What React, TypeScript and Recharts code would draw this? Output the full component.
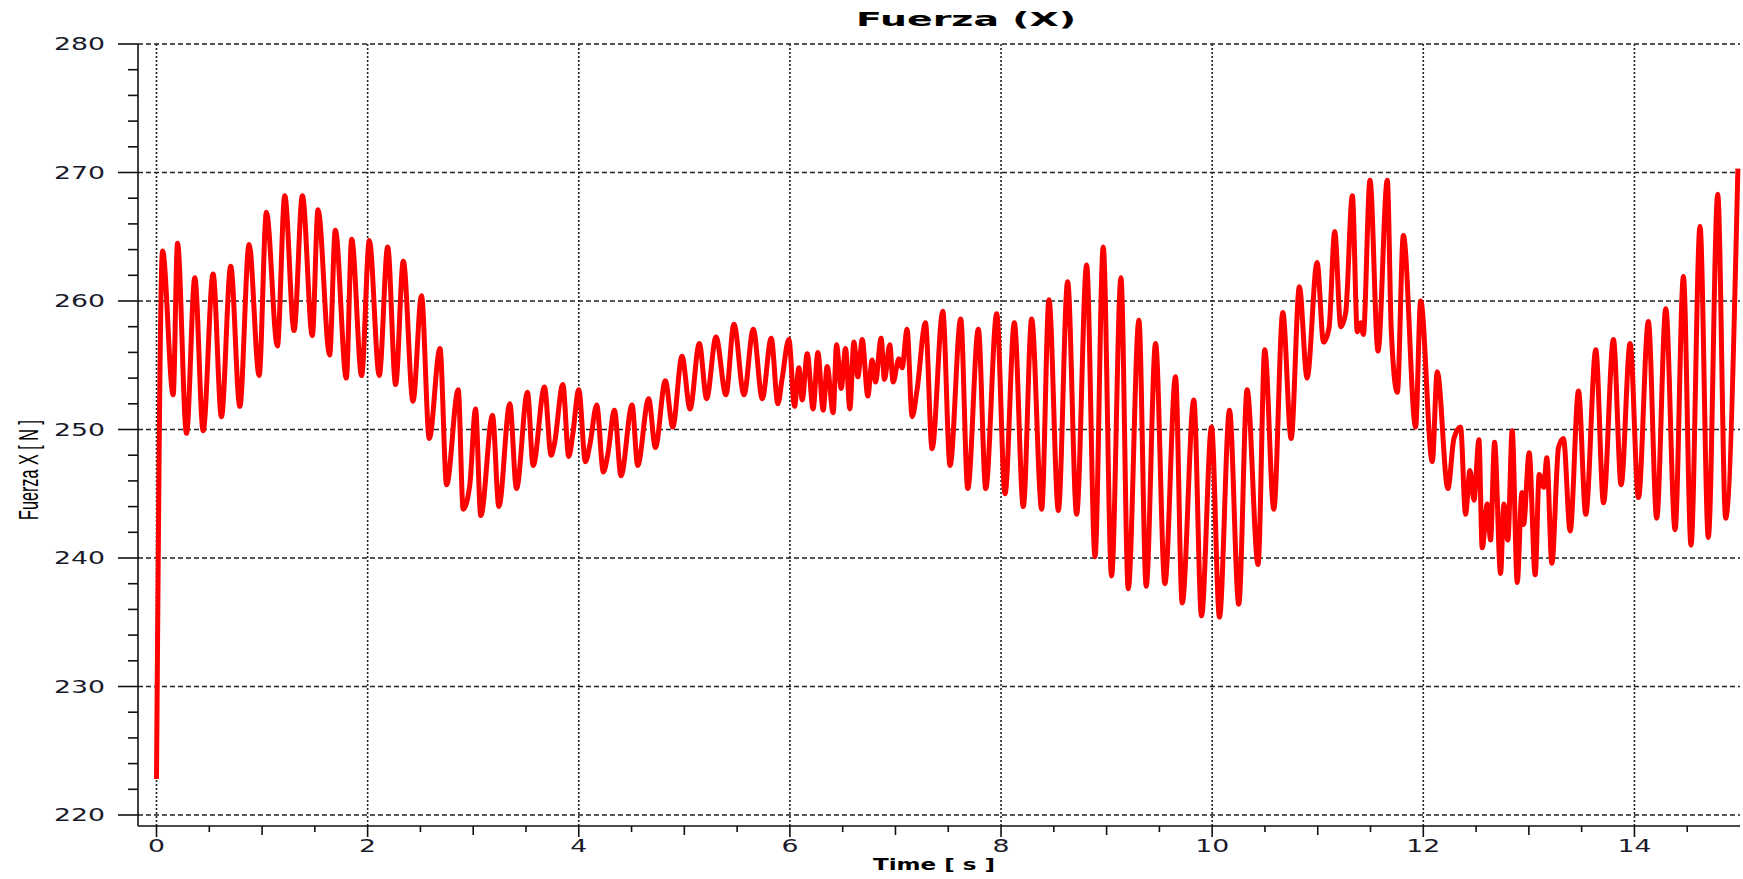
import React from 'react';
import { LineChart, Line, XAxis, YAxis, CartesianGrid } from 'recharts';

const chartTitle = 'Fuerza  (X)';
const xTitle = 'Time [ s ]';
const yTitle = 'Fuerza X [ N ]';

const xLabels = [0, 2, 4, 6, 8, 10, 12, 14];
const yLabels = [220, 230, 240, 250, 260, 270, 280];

// peaks and valleys of the signal
const timeS = [
  0.0, 0.057, 0.158, 0.199, 0.284, 0.363, 0.442, 0.536, 0.615, 0.703, 0.789, 0.877, 0.972,
  1.041, 1.145, 1.215, 1.303, 1.382, 1.476, 1.53, 1.64, 1.694, 1.798, 1.849, 1.943,
  2.016, 2.11, 2.19, 2.265, 2.338, 2.43, 2.51, 2.584, 2.685, 2.748, 2.858, 2.905, 2.968,
  3.022, 3.072, 3.183, 3.243, 3.347, 3.41, 3.514, 3.568, 3.675, 3.738, 3.77, 3.849, 3.905, 3.943,
  4.0, 4.063, 4.107, 4.17, 4.233, 4.274, 4.338, 4.4, 4.505, 4.558, 4.662, 4.726, 4.82, 4.89, 4.978,
  5.054, 5.142, 5.211, 5.3, 5.394, 5.47, 5.565, 5.653, 5.738, 5.823, 5.886, 5.927, 5.99,
  6.044, 6.085, 6.117, 6.164, 6.22, 6.265, 6.315, 6.353, 6.41, 6.442, 6.486, 6.527, 6.568, 6.606,
  6.644, 6.685, 6.738, 6.779, 6.811, 6.864, 6.896, 6.946, 6.978,
  7.032, 7.063, 7.11, 7.158, 7.205, 7.284, 7.347, 7.448, 7.517, 7.618, 7.685, 7.785, 7.855, 7.959,
  8.038, 8.126, 8.211, 8.29, 8.385, 8.454, 8.543, 8.631, 8.716, 8.811, 8.89, 8.968,
  9.047, 9.136, 9.205, 9.306, 9.375, 9.464, 9.552, 9.653, 9.716, 9.826, 9.899, 9.994,
  10.069, 10.164, 10.252, 10.331, 10.435, 10.498, 10.584, 10.669, 10.748, 10.826, 10.899, 10.994,
  11.055, 11.107, 11.161, 11.218, 11.265, 11.328, 11.375, 11.407, 11.432, 11.495, 11.571, 11.659,
  11.697, 11.754, 11.811, 11.927, 11.975,
  12.085, 12.132, 12.233, 12.29, 12.353, 12.4, 12.442, 12.48, 12.527, 12.558, 12.606, 12.637,
  12.675, 12.732, 12.763, 12.801, 12.842, 12.89, 12.934, 12.95,
  13.003, 13.06, 13.098, 13.14, 13.17, 13.218, 13.281, 13.328, 13.391, 13.47, 13.539, 13.634,
  13.707, 13.801, 13.874, 13.959,
  14.038, 14.132, 14.211, 14.297, 14.385, 14.464, 14.536, 14.621, 14.7, 14.789, 14.864, 14.98,
];
const forceN = [
  222.8, 263.9, 252.7, 264.5, 249.7, 261.8, 249.9, 262.1, 251.0, 262.7, 251.8, 264.4, 254.2,
  266.9, 256.5, 268.2, 257.7, 268.2, 257.3, 267.1, 255.8, 265.5, 254.0, 264.8, 254.2,
  264.7, 254.2, 264.2, 253.5, 263.1, 252.2, 260.4, 249.3, 256.3, 245.7, 253.1, 243.8, 245.7,
  251.6, 243.3, 251.1, 244.0, 252.0, 245.4, 252.9, 247.2, 253.3, 248.0, 248.9, 253.5, 247.9, 249.6,
  253.1, 247.5, 248.9, 251.9, 246.7, 248.0, 251.5, 246.4, 251.9, 247.2, 252.4, 248.6, 253.8, 250.2, 255.7,
  251.6, 256.7, 252.4, 257.2, 252.7, 258.2, 252.7, 257.8, 252.4, 257.1, 252.0, 254.0, 257.0,
  251.8, 254.8, 252.3, 255.9, 251.6, 256.0, 251.5, 254.9, 251.3, 256.6, 253.2, 256.3, 251.6, 256.8,
  254.1, 257.0, 252.6, 255.4, 253.7, 257.1, 253.9, 256.6, 253.7,
  255.5, 254.8, 257.8, 251.0, 253.1, 258.3, 248.5, 259.2, 247.2, 258.6, 245.4, 257.8, 245.4, 259.0,
  245.0, 258.3, 244.0, 258.6, 243.8, 260.1, 243.7, 261.5, 243.4, 262.8, 240.1, 264.2,
  238.6, 261.8, 237.6, 258.5, 237.8, 256.7, 238.0, 254.1, 236.5, 252.3, 235.5, 250.2,
  235.4, 251.5, 236.4, 253.1, 239.5, 256.2, 243.8, 259.1, 249.3, 261.1, 254.0, 263.0,
  256.8, 257.9, 265.4, 258.0, 259.1, 268.2, 257.6, 258.3, 257.4, 269.4, 256.1, 269.4,
  257.6, 252.9, 265.1, 250.2, 260.0,
  247.5, 254.5, 245.4, 249.3, 250.2, 243.4, 246.8, 244.5, 249.2, 240.8, 244.2, 241.4,
  249.0, 238.8, 244.2, 241.4, 249.9, 238.1, 245.1, 242.6,
  248.2, 238.7, 246.5, 245.5, 247.8, 239.6, 248.6, 249.3, 242.1, 253.0, 243.4, 256.2,
  244.3, 257.0, 245.7, 256.7,
  244.7, 258.4, 243.1, 259.4, 242.2, 261.9, 241.0, 265.8, 241.6, 268.3, 243.1, 270.3,
];

const data = timeS.map((t, i) => ({ t, f: forceN[i] }));

// minor tick marks: every 0.5 s on x, every 2 N on y
const xTicks = Array.from({ length: 30 }, (_, i) => i * 0.5);
const yTicks = Array.from({ length: 31 }, (_, i) => 220 + i * 2);

const labelFont = 'DejaVu Sans, Verdana, sans-serif';

const XTick = ({ x, y, payload }: any) => {
  const v = payload.value as number;
  const even = v % 2 === 0;
  const whole = Number.isInteger(v);
  const len = even ? 11 : whole ? 9 : 6;
  const s = String(v);
  return (
    <g>
      <line x1={x} x2={x} y1={y} y2={y + len} stroke="#111" strokeWidth={1.6} />
      {even && (
        <text
          x={x}
          y={y + 26}
          textAnchor="middle"
          fontSize={17}
          fill="#1a1a2a"
          fontFamily={labelFont}
          textLength={17 * s.length}
          lengthAdjust="spacingAndGlyphs"
        >
          {s}
        </text>
      )}
    </g>
  );
};

const YTick = ({ x, y, payload }: any) => {
  const v = payload.value as number;
  const major = v % 10 === 0;
  return (
    <g>
      <line x1={x - (major ? 20 : 10)} x2={x} y1={y} y2={y} stroke="#111" strokeWidth={1.6} />
      {major && (
        <text
          x={x - 33}
          y={y + 6}
          textAnchor="end"
          fontSize={17}
          fill="#1a1a2a"
          fontFamily={labelFont}
          textLength={51}
          lengthAdjust="spacingAndGlyphs"
        >
          {v}
        </text>
      )}
    </g>
  );
};

export default function App() {
  return (
    <div style={{ position: 'absolute', left: 0, top: 0, width: 1743, height: 879, background: '#fff' }}>
      <style>{'body{margin:0}'}</style>
      <LineChart width={1743} height={879} data={data} margin={{ top: 44, right: 3, bottom: 0, left: 0 }}>
        <CartesianGrid vertical={false} horizontalValues={yLabels} stroke="#222" strokeDasharray="5 3" strokeWidth={1.3} />
        <CartesianGrid horizontal={false} verticalValues={xLabels} stroke="#222" strokeDasharray="2 2" strokeWidth={1.6} />
        <XAxis
          type="number"
          dataKey="t"
          domain={[0, 15]}
          ticks={xTicks}
          interval={0}
          height={53}
          padding={{ left: 18.5, right: 0 }}
          axisLine={{ stroke: '#111', strokeWidth: 1.6 }}
          tickLine={false}
          tickSize={0}
          tickMargin={0}
          tick={<XTick />}
        />
        <YAxis
          type="number"
          domain={[220, 280]}
          ticks={yTicks}
          interval={0}
          width={138}
          padding={{ top: 0, bottom: 11 }}
          axisLine={{ stroke: '#111', strokeWidth: 1.6 }}
          tickLine={false}
          tickSize={0}
          tickMargin={0}
          tick={<YTick />}
        />
        <Line
          type="monotone"
          dataKey="f"
          stroke="#ff0000"
          strokeWidth={5}
          strokeLinejoin="round"
          dot={false}
          activeDot={false}
          isAnimationActive={false}
        />
        <text
          x={966}
          y={26}
          textAnchor="middle"
          fontSize={20}
          fontWeight="bold"
          fontFamily={labelFont}
          fill="#000"
          textLength={220}
          lengthAdjust="spacingAndGlyphs"
        >
          {chartTitle}
        </text>
        <text
          x={934}
          y={870}
          textAnchor="middle"
          fontSize={16}
          fontWeight="bold"
          fontFamily={labelFont}
          fill="#000"
          textLength={122}
          lengthAdjust="spacingAndGlyphs"
        >
          {xTitle}
        </text>
        <text
          transform="translate(28,470) rotate(-90) scale(1,1.35)"
          textAnchor="middle"
          dominantBaseline="central"
          fontSize={20}
          fontWeight={500}
          fontFamily="Liberation Sans, Arial, sans-serif"
          fill="#000"
          textLength={100}
          lengthAdjust="spacingAndGlyphs"
        >
          {yTitle}
        </text>
      </LineChart>
    </div>
  );
}
